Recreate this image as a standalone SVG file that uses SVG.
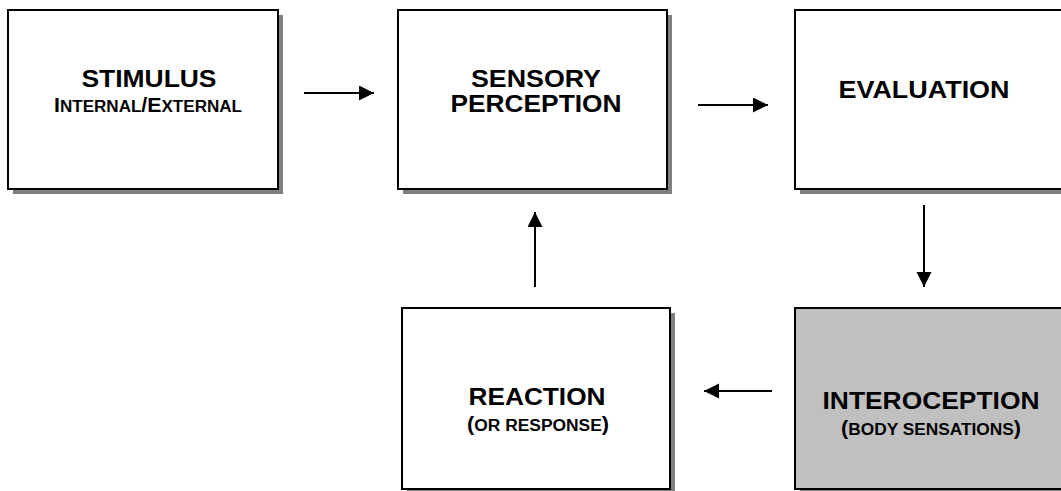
<svg xmlns="http://www.w3.org/2000/svg" width="1061" height="491" viewBox="0 0 1061 491">
<defs>
<style>
.box{fill:#ffffff;stroke:#000000;stroke-width:2}
.grey{fill:#c0c0c0}
.shadow{fill:#808080}
.t{font-family:"Liberation Sans",Arial,sans-serif;font-weight:bold;fill:#000000;text-anchor:middle}
.big{font-size:24px}
.sc{font-size:20px}
.sm{font-size:16px}
.conn line{stroke:#000000;stroke-width:2}
</style>
<marker id="ah" markerWidth="16" markerHeight="16" refX="15" refY="7.5" orient="auto" markerUnits="userSpaceOnUse">
<path d="M0,0 L15,7.5 L0,15 Z" fill="#000000"/>
</marker>
</defs>
<rect width="1061" height="491" fill="#ffffff"/>

<g id="stimulus">
<rect class="shadow" x="13" y="15" width="270" height="179"/>
<rect class="box" x="8" y="10" width="270" height="179"/>
<text class="t big" x="149" y="87" textLength="135" lengthAdjust="spacingAndGlyphs">STIMULUS</text>
<text class="t" x="148" y="112" textLength="188" lengthAdjust="spacingAndGlyphs"><tspan class="sc">I</tspan><tspan class="sm">NTERNAL</tspan><tspan class="sc">/E</tspan><tspan class="sm">XTERNAL</tspan></text>
</g>

<g id="sensory">
<rect class="shadow" x="403" y="15" width="269" height="179"/>
<rect class="box" x="398" y="10" width="269" height="179"/>
<text class="t big" x="536" y="87" textLength="130" lengthAdjust="spacingAndGlyphs">SENSORY</text>
<text class="t big" x="536" y="112" textLength="171" lengthAdjust="spacingAndGlyphs">PERCEPTION</text>
</g>

<g id="evaluation">
<rect class="shadow" x="800" y="15" width="270" height="179"/>
<rect class="box" x="795" y="10" width="270" height="179"/>
<text class="t big" x="924" y="98" textLength="171" lengthAdjust="spacingAndGlyphs">EVALUATION</text>
</g>

<g id="reaction">
<rect class="shadow" x="407" y="313" width="268" height="181"/>
<rect class="box" x="402" y="308" width="268" height="181"/>
<text class="t big" x="537" y="405" textLength="137" lengthAdjust="spacingAndGlyphs">REACTION</text>
<text class="t" x="538" y="431" textLength="142" lengthAdjust="spacingAndGlyphs"><tspan class="sc">(</tspan><tspan class="sm">OR RESPONSE</tspan><tspan class="sc">)</tspan></text>
</g>

<g id="interoception">
<rect class="shadow" x="800" y="313" width="270" height="181"/>
<rect class="box grey" x="795" y="308" width="270" height="181"/>
<text class="t big" x="931" y="409" textLength="217" lengthAdjust="spacingAndGlyphs">INTEROCEPTION</text>
<text class="t" x="931" y="435" textLength="180" lengthAdjust="spacingAndGlyphs"><tspan class="sc">(</tspan><tspan class="sm">BODY SENSATIONS</tspan><tspan class="sc">)</tspan></text>
</g>

<g id="connectors" class="conn">
<line x1="304" y1="93" x2="374" y2="93" marker-end="url(#ah)"/>
<line x1="698" y1="105" x2="768" y2="105" marker-end="url(#ah)"/>
<line x1="924" y1="205" x2="924" y2="287" marker-end="url(#ah)"/>
<line x1="772" y1="391" x2="704" y2="391" marker-end="url(#ah)"/>
<line x1="535" y1="287" x2="535" y2="212" marker-end="url(#ah)"/>
</g>
</svg>
